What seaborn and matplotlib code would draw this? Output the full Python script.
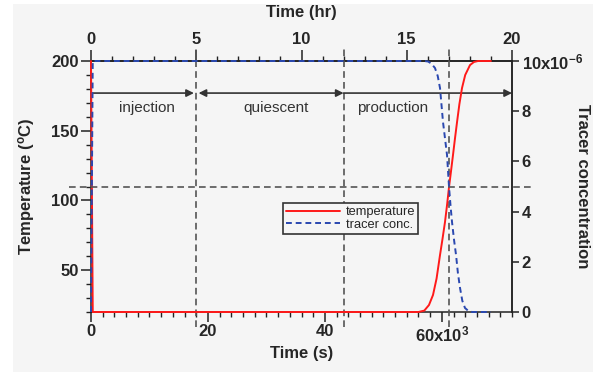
import numpy as np
import matplotlib
matplotlib.use("Agg")
import matplotlib.pyplot as plt
import matplotlib.ticker as mticker
from matplotlib.patches import Rectangle
import seaborn as sns

# temperature of produced fluid (s, degC)
tempo_temp = [0, 300, 55000, 56000, 57000, 57800, 58490, 59100, 59690, 60100, 60540, 60900,
              61230, 61570, 61910, 62250, 62600, 63000, 63450, 64000, 64820, 65500, 66190, 68400]
temperatura = [200, 20, 20, 20, 21, 25, 32.2, 44, 60.9, 72, 84.5, 97,
               109.6, 121, 132.6, 144.5, 156.2, 169, 180.6, 190, 197.1, 199.3, 200, 200]

# tracer concentration (s, x1e-6)
tempo_tracer = [0, 300, 57000, 57640, 58200, 58830, 59300, 59690, 60000, 60200, 60550, 60890,
                61230, 61500, 61740, 62100, 62430, 62750, 63110, 63500, 63960, 64500, 65160, 68400]
tracer = [0, 10, 10, 9.98, 9.9, 9.72, 9.4, 8.92, 8.1, 7.57, 6.9, 6.25,
          4.98, 4.2, 3.59, 2.85, 2.27, 1.55, 0.96, 0.45, 0.16, 0.05, 0, 0]

# phase limits (hr) and labels
fases_hr = [5, 12, 17]
fases_nome = ['injection', 'quiescent', 'production']
fases_texto_s = [9580, 31640, 51650]
meio_tracer = 5.0

sns.set_theme(style='ticks')
plt.rcParams['font.family'] = ['Liberation Sans', 'DejaVu Sans']
plt.rcParams['mathtext.fontset'] = 'custom'
plt.rcParams['mathtext.rm'] = 'Liberation Sans:bold'
plt.rcParams['mathtext.it'] = 'Liberation Sans:bold'
plt.rcParams['mathtext.bf'] = 'Liberation Sans:bold'

fundo = '#f5f5f5'
fig = plt.figure(figsize=(6.01, 3.72), dpi=100)
fig.patch.set_facecolor('white')
fig.add_artist(Rectangle((13/601, 0), 580/601, 368/372, transform=fig.transFigure,
                         facecolor=fundo, edgecolor='none', zorder=-10))

ax = fig.add_axes([91/601, 1-312/372, 421/601, 251/372])
ax.set_facecolor(fundo)
ax2 = ax.twinx()

tmax = 72000
ax.set_xlim(0, tmax)
ax.set_ylim(20, 200)
ax2.set_ylim(0, 10)

sns.lineplot(x=tempo_temp, y=temperatura, ax=ax, color='#ff1a1a', lw=1.4,
             sort=False, label='temperature', legend=False)
sns.lineplot(x=tempo_tracer, y=tracer, ax=ax2, color='#2a48b0', lw=1.4,
             sort=False, label='tracer conc.', legend=False)
ax2.lines[0].set_linestyle((0, (3, 2)))
for ln in (ax.lines[0], ax2.lines[0]):
    ln.set_clip_on(False)
    ln.set_zorder(4)

# reference dashed lines, going a bit past the frame
cinza = '#555555'
for h in fases_hr:
    ax.plot([h*3600, h*3600], [-0.06, 1.052], transform=ax.get_xaxis_transform(),
            color=cinza, lw=1.2, ls=(0, (4, 2.5)), clip_on=False, zorder=3)
ax2.plot([-0.052, 1.048], [meio_tracer, meio_tracer], transform=ax2.get_yaxis_transform(),
         color=cinza, lw=1.2, ls=(0, (4, 2.5)), clip_on=False, zorder=3)

# phase arrows
y_seta = 177
limites = [0] + [h*3600 for h in fases_hr[:2]] + [tmax]
estilos = ['-|>', '<|-|>', '-|>']
folga = [(0, 400), (400, 0), (0, 0)]
for i in range(3):
    ax.annotate('', xy=(limites[i+1] - folga[i][1], y_seta), xytext=(limites[i] + folga[i][0], y_seta),
                arrowprops=dict(arrowstyle=estilos[i], color='#333333', lw=1.2,
                                mutation_scale=11, shrinkA=0, shrinkB=0))
    ax.text(fases_texto_s[i], 166, fases_nome[i], ha='center', va='center',
            fontsize=11, color='#333333')

# ticks
ax.xaxis.set_major_locator(mticker.FixedLocator([0, 20000, 40000, 60000]))
ax.xaxis.set_minor_locator(mticker.FixedLocator(np.arange(0, tmax + 1, 2000)))
ax.xaxis.set_major_formatter(mticker.FuncFormatter(
    lambda v, p: '60x10$^{3}$' if v == 60000 else f'{v/1000:.0f}'))
ax.yaxis.set_major_locator(mticker.FixedLocator([50, 100, 150, 200]))
ax.yaxis.set_minor_locator(mticker.FixedLocator(np.arange(20, 201, 10)))
ax2.yaxis.set_major_locator(mticker.FixedLocator([0, 2, 4, 6, 8, 10]))
ax2.yaxis.set_major_formatter(mticker.FuncFormatter(
    lambda v, p: '10x10$^{-6}$' if v == 10 else f'{v:.0f}'))

sec = ax.secondary_xaxis('top', functions=(lambda s: s/3600, lambda h: h*3600))
sec.xaxis.set_major_locator(mticker.FixedLocator([0, 5, 10, 15, 20]))
sec.xaxis.set_minor_locator(mticker.FixedLocator(np.arange(0, 21, 1)))

for s in ax.spines.values():
    s.set_color('#222222')
    s.set_linewidth(1.1)
    s.set_visible(True)
for k in ('top', 'bottom', 'left'):
    ax2.spines[k].set_visible(False)
ax2.spines['right'].set_color('#222222')
ax2.spines['right'].set_linewidth(1.1)

ax.tick_params(which='major', length=7, width=1.1, labelsize=12, color='#222222', pad=2)
ax.tick_params(which='minor', length=3.5, width=1.0, color='#222222')
ax2.tick_params(which='major', length=5, width=1.1, labelsize=12, color='#222222', pad=2)
sec.tick_params(which='major', length=8, width=1.1, labelsize=12, color='#222222', pad=2)
sec.tick_params(which='minor', length=3.5, width=1.0, color='#222222')
for a in (ax.xaxis, ax.yaxis, ax2.yaxis, sec.xaxis):
    for lab in a.get_ticklabels():
        lab.set_fontweight('bold')

ax.set_xlabel('Time (s)', fontsize=12, fontweight='bold', labelpad=1)
ax.set_ylabel('Temperature ($^{o}$C)', fontsize=12, fontweight='bold', labelpad=10)
sec.set_xlabel('Time (hr)', fontsize=12, fontweight='bold', labelpad=11)
ax2.set_ylabel('Tracer concentration', fontsize=12, fontweight='bold', rotation=-90, labelpad=5)

h1, l1 = ax.get_legend_handles_labels()
h2, l2 = ax2.get_legend_handles_labels()
leg = ax2.legend(h1 + h2, l1 + l2, loc='upper left', bbox_to_anchor=(283/601, 1-203/372),
                 bbox_transform=fig.transFigure, fontsize=9.3, frameon=True, fancybox=False,
                 handlelength=4.2, handletextpad=0.4, borderpad=0.25, labelspacing=0.05,
                 borderaxespad=0)
leg.get_frame().set_edgecolor('#333333')
leg.get_frame().set_linewidth(1.2)
leg.get_frame().set_facecolor(fundo)
leg.get_frame().set_alpha(1)

fig.savefig('out.png', dpi=100, facecolor=fig.get_facecolor())
